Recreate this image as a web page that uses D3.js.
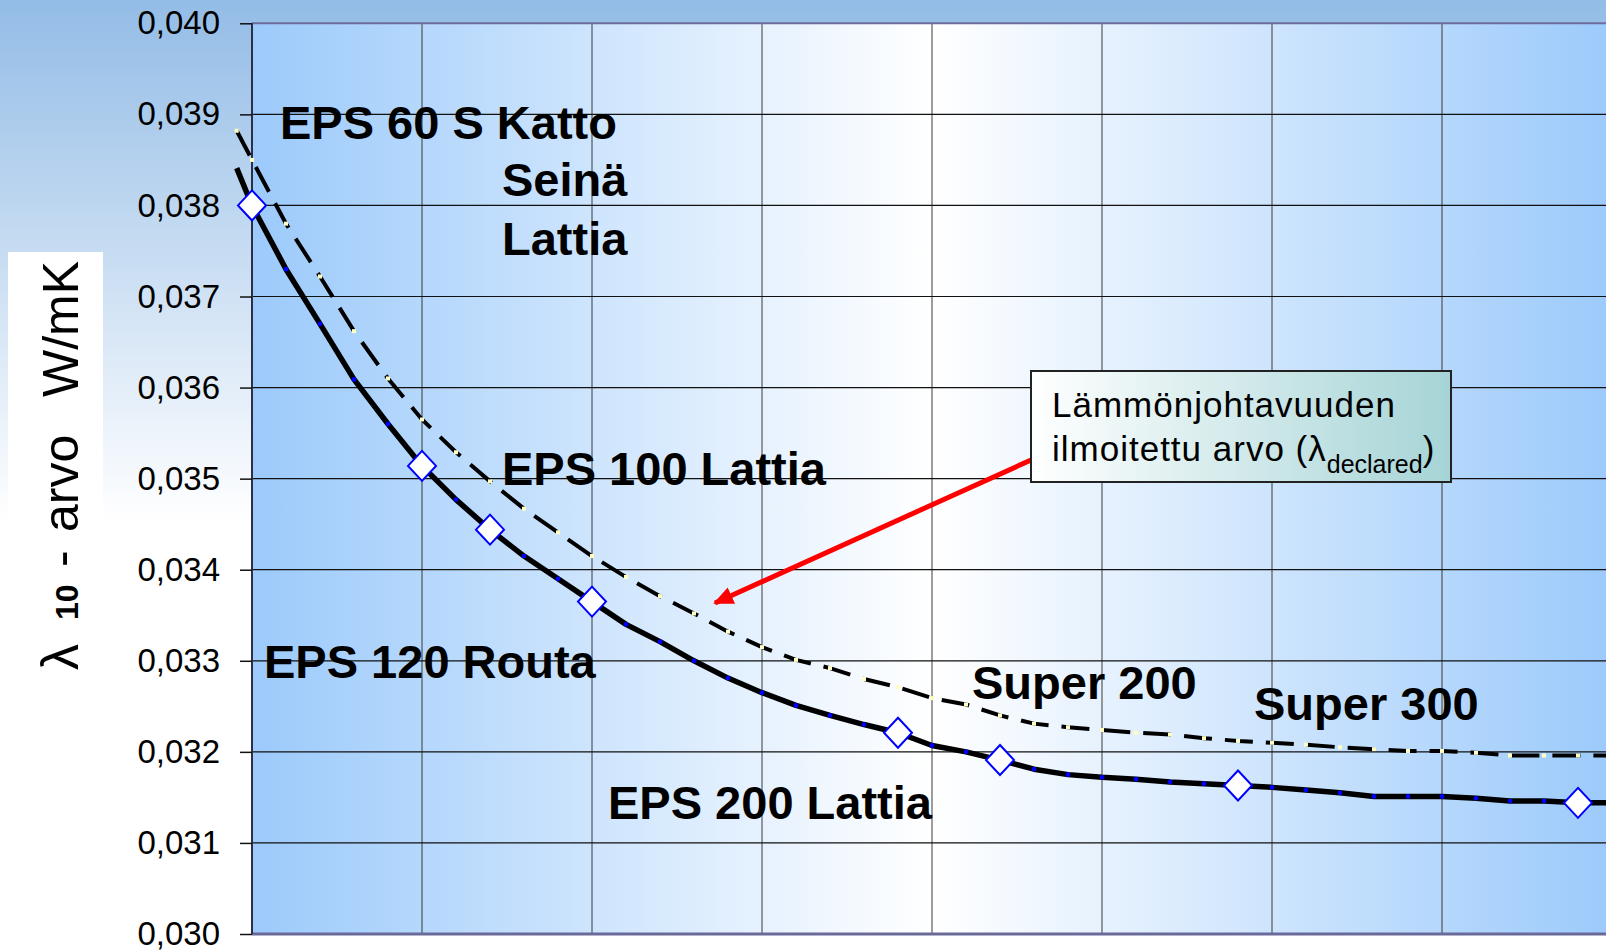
<!DOCTYPE html>
<html>
<head>
<meta charset="utf-8">
<script src="https://cdn.jsdelivr.net/npm/d3@7"></script>
<style>
  body { margin: 0; background: #fff; }
  svg { display: block; font-family: "Liberation Sans", Arial, sans-serif; }
</style>
</head>
<body>
<svg id="chart" width="1606" height="950"></svg>
<script>
// x position of every reading, in steps (5 steps between vertical gridlines)
const steps = [-0.45, 0, 1, 2, 3, 4, 5, 6, 7, 8, 9, 10, 11, 12, 13, 14, 15, 16, 17, 18, 19, 20,
  21, 22, 23, 24, 25, 26, 27, 28, 29, 30, 31, 32, 33, 34, 35, 36, 37, 38, 39, 40];

// lambda 10 (W/mK), solid line
const lambdaMeasured = [0.03841, 0.03800, 0.03730, 0.03670, 0.03609, 0.03560, 0.03514, 0.03477,
  0.03444, 0.03415, 0.03390, 0.03365, 0.03340, 0.03321, 0.03300, 0.03281, 0.03265, 0.03251,
  0.03240, 0.03230, 0.03221, 0.03207, 0.03200, 0.03191, 0.03181, 0.03175, 0.03172, 0.03170,
  0.03167, 0.03165, 0.03163, 0.03161, 0.03158, 0.03155, 0.03151, 0.03151, 0.03151, 0.03149,
  0.03146, 0.03146, 0.03144, 0.03144];

// declared lambda (W/mK), dashed line
const lambdaDeclared = [0.03882, 0.03850, 0.03780, 0.03722, 0.03662, 0.03610, 0.03565, 0.03529,
  0.03497, 0.03467, 0.03441, 0.03415, 0.03392, 0.03371, 0.03352, 0.03332, 0.03315, 0.03301,
  0.03292, 0.03280, 0.03271, 0.03259, 0.03252, 0.03240, 0.03231, 0.03227, 0.03224, 0.03221,
  0.03219, 0.03215, 0.03212, 0.03210, 0.03208, 0.03205, 0.03203, 0.03201, 0.03201, 0.03199,
  0.03196, 0.03196, 0.03196, 0.03196];

// steps where a product sits (big diamonds)
const productSteps = [0, 5, 7, 10, 19, 22, 29, 39];

const yTicks = [0.030, 0.031, 0.032, 0.033, 0.034, 0.035, 0.036, 0.037, 0.038, 0.039, 0.040];
const gridSteps = [5, 10, 15, 20, 25, 30, 35, 40];

const productLabels = ["EPS 60 S Katto", "Seinä", "Lattia", "EPS 100 Lattia", "EPS 120 Routa",
  "Super 200", "Super 300", "EPS 200 Lattia"];
// label placement, px (left, baseline)
const labelPos = [[280, 139], [502, 196], [502, 255], [502, 485], [264, 678],
  [972, 699], [1254, 720], [608, 819]];

const svg = d3.select("#chart");
const plot = { left: 252, right: 1612, top: 23.3, bottom: 934 };

const x = d3.scaleLinear().domain([0, 40]).range([plot.left, plot.right]);
const y = d3.scaleLinear().domain([0.030, 0.040]).range([plot.bottom, plot.top]);

const defs = svg.append("defs");

const bg = defs.append("linearGradient").attr("id", "bg")
  .attr("x1", 0).attr("y1", 0).attr("x2", 0).attr("y2", 1);
bg.append("stop").attr("offset", 0).attr("stop-color", "#93bce6");
bg.append("stop").attr("offset", 0.55).attr("stop-color", "#ffffff");

const plotBg = defs.append("linearGradient").attr("id", "plotBg");
plotBg.append("stop").attr("offset", 0).attr("stop-color", "#9ccafb");
plotBg.append("stop").attr("offset", 0.5).attr("stop-color", "#ffffff");
plotBg.append("stop").attr("offset", 1).attr("stop-color", "#9ccafb");

const boxBg = defs.append("linearGradient").attr("id", "boxBg");
boxBg.append("stop").attr("offset", 0).attr("stop-color", "#ffffff");
boxBg.append("stop").attr("offset", 1).attr("stop-color", "#a6d4d6");

defs.append("marker").attr("id", "arrowHead")
  .attr("markerUnits", "userSpaceOnUse")
  .attr("viewBox", "0 0 20 18")
  .attr("markerWidth", 20).attr("markerHeight", 18)
  .attr("refX", 18).attr("refY", 9)
  .attr("orient", "auto")
  .append("path").attr("d", "M0,0 L20,9 L0,18 Z").attr("fill", "#ff0000");

// backgrounds
svg.append("rect").attr("width", 1606).attr("height", 950).attr("fill", "url(#bg)");
svg.append("rect").attr("x", 8).attr("y", 252).attr("width", 95).attr("height", 450).attr("fill", "#ffffff");
svg.append("rect")
  .attr("x", plot.left).attr("y", plot.top)
  .attr("width", plot.right - plot.left).attr("height", plot.bottom - plot.top)
  .attr("fill", "url(#plotBg)");

// gridlines
svg.append("g").selectAll("line").data(gridSteps).join("line")
  .attr("x1", d => x(d)).attr("x2", d => x(d))
  .attr("y1", plot.top).attr("y2", plot.bottom)
  .attr("stroke", "#3a3a3a").attr("stroke-width", 1);

svg.append("g").selectAll("line").data(yTicks.slice(1, -1)).join("line")
  .attr("x1", plot.left).attr("x2", plot.right)
  .attr("y1", d => y(d)).attr("y2", d => y(d))
  .attr("stroke", "#111").attr("stroke-width", 1.2);

// frame
svg.append("line").attr("x1", plot.left).attr("x2", plot.right)
  .attr("y1", y(0.040)).attr("y2", y(0.040))
  .attr("stroke", "#6e6e9e").attr("stroke-width", 2);
svg.append("line").attr("x1", plot.left).attr("x2", plot.right)
  .attr("y1", y(0.030)).attr("y2", y(0.030))
  .attr("stroke", "#6a6a9a").attr("stroke-width", 3);
svg.append("line").attr("x1", plot.left).attr("x2", plot.left)
  .attr("y1", plot.top).attr("y2", plot.bottom)
  .attr("stroke", "#2e2e48").attr("stroke-width", 2);

// y axis
const fmt = d3.formatLocale({ decimal: ",", thousands: " ", grouping: [3], currency: ["", ""] }).format(".3f");
const yAxis = svg.append("g").attr("transform", `translate(${plot.left},0)`)
  .call(d3.axisLeft(y).tickValues(yTicks).tickSize(12).tickPadding(20).tickFormat(fmt));
yAxis.select(".domain").remove();
yAxis.selectAll(".tick line").attr("stroke", "#111").attr("stroke-width", 1.5);
yAxis.selectAll(".tick text")
  .attr("fill", "#000")
  .attr("font-size", 33)
  .attr("font-family", "'Liberation Sans', Arial, sans-serif");

// y axis title, rotated, built piece by piece
const titleParts = [
  { t: "λ", at: 670, size: 52, weight: "normal" },
  { t: "10", at: 620, size: 32, weight: "bold" },
  { t: "-", at: 567, size: 50, weight: "normal" },
  { t: "arvo", at: 532, size: 50, weight: "normal" },
  { t: "W/mK", at: 397, size: 50, weight: "normal" }
];
svg.append("g").selectAll("text").data(titleParts).join("text")
  .attr("transform", d => `translate(78,${d.at}) rotate(-90)`)
  .attr("font-size", d => d.size)
  .attr("font-weight", d => d.weight)
  .attr("fill", "#000")
  .text(d => d.t);

// series
const measured = steps.map((s, i) => ({ s, v: lambdaMeasured[i] }));
const declared = steps.map((s, i) => ({ s, v: lambdaDeclared[i] }));
const lineGen = d3.line().x(d => x(d.s)).y(d => y(d.v));

svg.append("path").datum(declared)
  .attr("d", lineGen)
  .attr("fill", "none")
  .attr("stroke", "#000")
  .attr("stroke-width", 4)
  .attr("stroke-dasharray", "28 13");

svg.append("g").selectAll("rect").data(declared).join("rect")
  .attr("x", d => x(d.s) - 2).attr("y", d => y(d.v) - 2)
  .attr("width", 4).attr("height", 4)
  .attr("fill", "#ffffc4");

svg.append("path").datum(measured)
  .attr("d", lineGen)
  .attr("fill", "none")
  .attr("stroke", "#000")
  .attr("stroke-width", 5.5)
  .attr("stroke-linejoin", "round");

svg.append("g").selectAll("circle").data(measured.filter(d => d.s >= 0)).join("circle")
  .attr("cx", d => x(d.s)).attr("cy", d => y(d.v))
  .attr("r", 2.4)
  .attr("fill", "#0000ff");

svg.append("g").selectAll("path").data(measured.filter(d => productSteps.includes(d.s))).join("path")
  .attr("transform", d => `translate(${x(d.s)},${y(d.v)})`)
  .attr("d", "M0,-15 L14,0 L0,15 L-14,0 Z")
  .attr("fill", "#ffffff")
  .attr("stroke", "#0000ff")
  .attr("stroke-width", 2);

// product labels
svg.append("g").selectAll("text").data(productLabels).join("text")
  .attr("x", (d, i) => labelPos[i][0])
  .attr("y", (d, i) => labelPos[i][1])
  .attr("font-size", 47)
  .attr("font-weight", "bold")
  .attr("fill", "#000")
  .text(d => d);

// red arrow pointing at the declared line
svg.append("line")
  .attr("x1", 1031).attr("y1", 460)
  .attr("x2", 715).attr("y2", 603)
  .attr("stroke", "#ff0000")
  .attr("stroke-width", 5)
  .attr("marker-end", "url(#arrowHead)");

// callout box
svg.append("rect")
  .attr("x", 1031).attr("y", 371)
  .attr("width", 420).attr("height", 111)
  .attr("fill", "url(#boxBg)")
  .attr("stroke", "#222")
  .attr("stroke-width", 2);

svg.append("text")
  .attr("x", 1052).attr("y", 417)
  .attr("font-size", 35)
  .attr("letter-spacing", 1)
  .attr("fill", "#000")
  .text("Lämmönjohtavuuden");

const line2 = svg.append("text")
  .attr("x", 1052).attr("y", 461)
  .attr("font-size", 35)
  .attr("letter-spacing", 1)
  .attr("fill", "#000")
  .style("white-space", "pre");
line2.append("tspan").text("ilmoitettu arvo (λ");
line2.append("tspan").attr("font-size", 25).attr("letter-spacing", 0).attr("dy", 12).text("declared");
line2.append("tspan").attr("dy", -12).text(")");
</script>
</body>
</html>
